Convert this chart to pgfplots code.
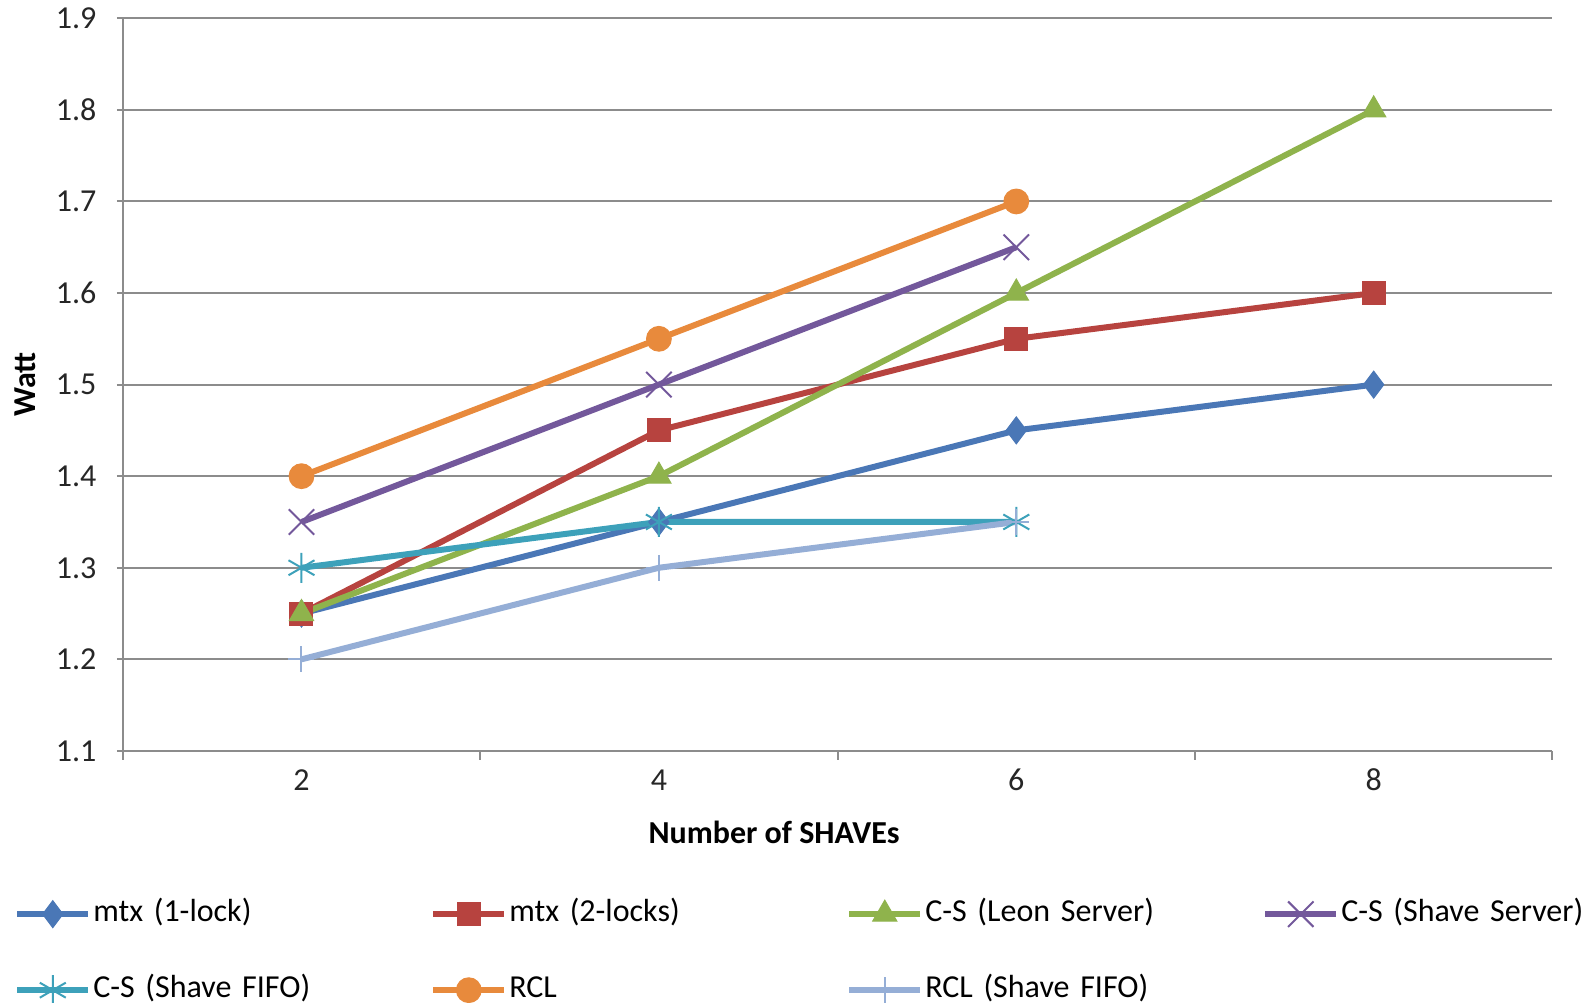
\documentclass[border=0pt]{standalone}
\usepackage{pgfplots}
\pgfplotsset{compat=1.18}
\usepackage{fontspec}
\setmainfont{Carlito}
\definecolor{cBlue}{HTML}{4A77B6}
\definecolor{cRed}{HTML}{B7433F}
\definecolor{cGreen}{HTML}{8FB34C}
\definecolor{cPurple}{HTML}{73589B}
\definecolor{cTeal}{HTML}{3DA1BA}
\definecolor{cOrange}{HTML}{E88A3C}
\definecolor{cLight}{HTML}{95AED6}
\definecolor{cGrid}{HTML}{8C8C8C}
\begin{document}
\begin{tikzpicture}
\begin{axis}[
  name=ax,
  at={(0,0)}, anchor=south west,
  scale only axis,
  width=714.8pt, height=366.3pt,
  xmin=1, xmax=9, ymin=1.1, ymax=1.9,
  xtick={2,4,6,8},
  minor xtick={1,3,5,7,9},
  ytick={1.1,1.2,1.3,1.4,1.5,1.6,1.7,1.8,1.9},
  yticklabel style={/pgf/number format/fixed,/pgf/number format/precision=1,/pgf/number format/fixed zerofill},
  /pgf/number format/assume math mode=true,
  axis lines*=left,
  axis line style={cGrid, line width=1pt},
  tick style={cGrid, line width=1pt},
  tick align=outside,
  x tick style={draw=none},
  minor x tick style={draw=cGrid, line width=1pt},
  minor tick length=4.5pt,
  major tick length=3pt,
  ymajorgrids,
  major grid style={cGrid, line width=1pt},
  ticklabel style={font=\fontsize{16}{19}\selectfont, text=black!85},
  yticklabel style={anchor=east, inner sep=0pt, xshift=-10pt},
  xticklabel style={anchor=center, inner sep=0pt, yshift=-11.5pt},
  xlabel={\bfseries Number of SHAVEs},
  ylabel={\bfseries Watt},
  label style={font=\fontsize{16}{19}\selectfont\bfseries, text=black},
  xlabel style={at={(axis description cs:0.4556,-0.1108)}, anchor=center},
  ylabel style={at={(axis description cs:-0.0681,0.5)}, anchor=center, rotate=0},
  legend columns=4,
  legend cell align=left,
  legend style={at={(axis description cs:-0.0759,-0.2024)}, anchor=north west,
    draw=none, fill=none, inner sep=0pt, outer sep=0pt,
    row sep=23pt,
    font=\fontsize{16}{19}\selectfont,
    nodes={inner sep=0pt, text height=11pt, text depth=4pt, text width=168.5pt, align=left},
    /tikz/every odd column/.style={column sep=1pt},
    /tikz/every even column/.style={column sep=0pt}},
  legend image code/.code={\draw[mark repeat=2,mark phase=2,#1] plot coordinates {(0pt,0pt) (17.75pt,0pt) (35.5pt,0pt)};},
  every axis plot/.append style={line width=3pt},
  clip=false,
]
\addplot[cBlue, mark=diamond*, mark size=6.75pt, mark options={solid,fill=cBlue,draw=cBlue,line width=0.5pt}]
  coordinates {(2,1.25) (4,1.35) (6,1.45) (8,1.5)};
\addlegendentry{mtx (1-lock)}
\addplot[cRed, mark=square*, mark size=5.75pt, mark options={solid,fill=cRed,draw=cRed,line width=0.5pt}]
  coordinates {(2,1.25) (4,1.45) (6,1.55) (8,1.6)};
\addlegendentry{mtx (2-locks)}
\addplot[cGreen, mark=triangle*, mark size=7pt, mark options={solid,fill=cGreen,draw=cGreen,line width=0.5pt}]
  coordinates {(2,1.25) (4,1.4) (6,1.6) (8,1.8)};
\addlegendentry{C-S (Leon Server)}
\addplot[cPurple, mark=x, mark size=9pt, mark options={solid,draw=cPurple,line width=1pt}]
  coordinates {(2,1.35) (4,1.5) (6,1.65)};
\addlegendentry{C-S (Shave Server)}
\addplot[cTeal, mark=asterisk, mark size=7.5pt, mark options={solid,draw=cTeal,line width=1pt}]
  coordinates {(2,1.3) (4,1.35) (6,1.35)};
\addlegendentry{C-S (Shave FIFO)}
\addplot[cOrange, mark=*, mark size=6.2pt, mark options={solid,fill=cOrange,draw=cOrange,line width=0.5pt}]
  coordinates {(2,1.4) (4,1.55) (6,1.7)};
\addlegendentry{RCL}
\addplot[cLight, mark=+, mark size=6.5pt, mark options={solid,draw=cLight,line width=1pt}]
  coordinates {(2,1.2) (4,1.3) (6,1.35)};
\addlegendentry{RCL (Shave FIFO)}
\end{axis}
\pgfresetboundingbox
\path[use as bounding box] (ax.south west) ++(-61.4pt,-125.55pt) rectangle ++(795.5pt,501pt);
\end{tikzpicture}
\end{document}
